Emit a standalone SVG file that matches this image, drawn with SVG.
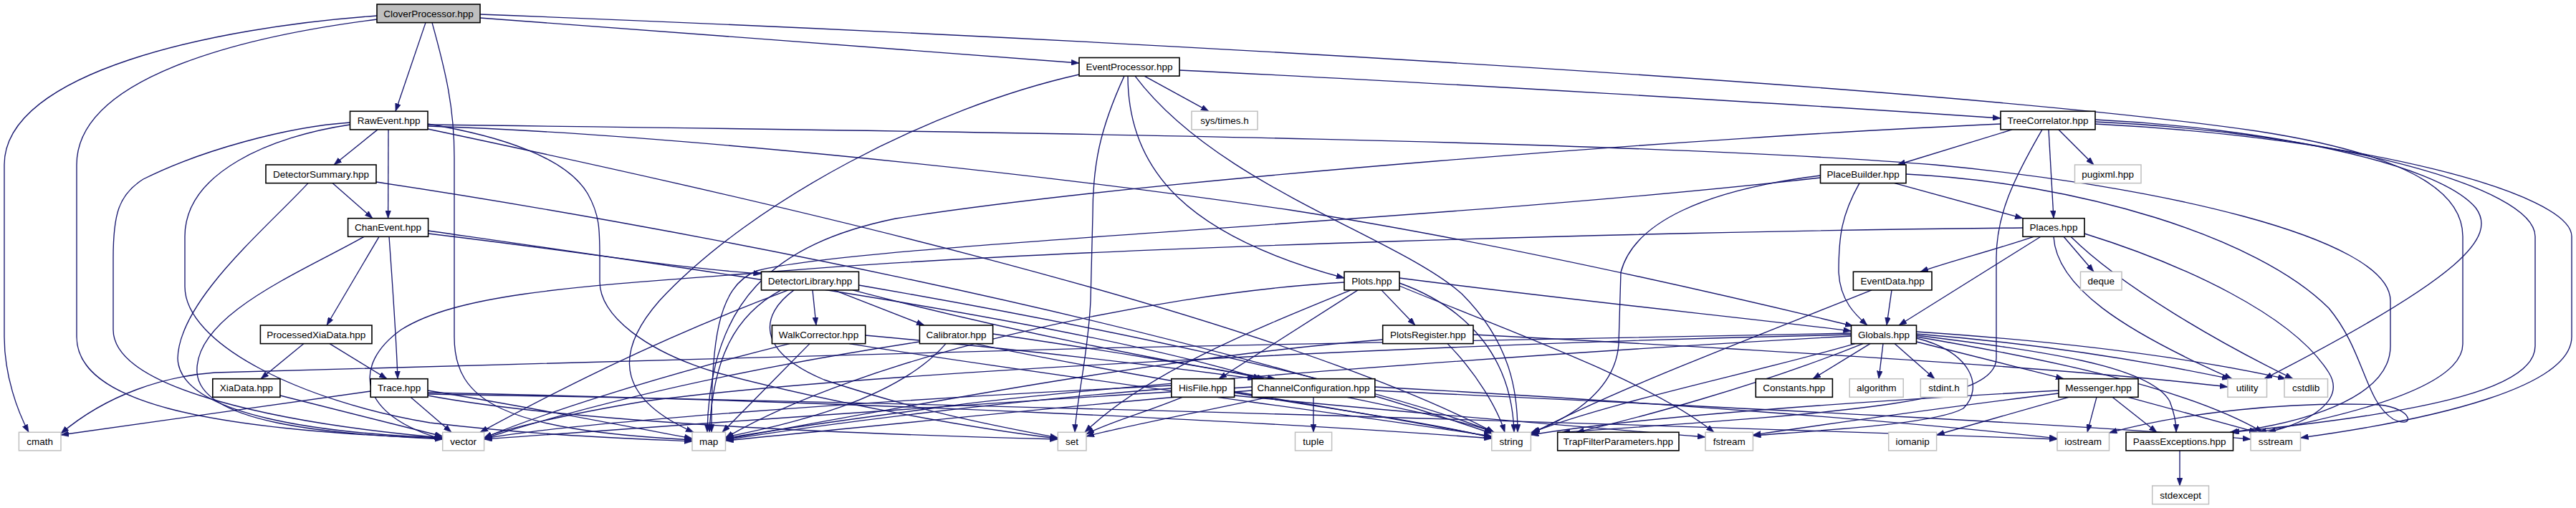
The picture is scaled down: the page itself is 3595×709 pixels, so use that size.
<svg xmlns="http://www.w3.org/2000/svg" width="3595" height="709" viewBox="0 0 3595 709">
<style>
.bg{fill:#ffffff}
.node rect{fill:#ffffff;stroke:#000000;stroke-width:1.6}
.sys rect{fill:#ffffff;stroke:#bfbfbf;stroke-width:1.5}
.root rect{fill:#bfbfbf;stroke:#000000;stroke-width:1.6}
text{font-family:"Liberation Sans",Arial,Helvetica,sans-serif;font-size:13.5px;fill:#000000;text-anchor:middle}
#edges path{fill:none;stroke:#191970;stroke-width:1.35;marker-end:url(#arr)}
</style>
<defs>
<marker id="arr" viewBox="0 0 11 8" refX="11" refY="4" markerWidth="11" markerHeight="8" markerUnits="userSpaceOnUse" orient="auto">
<path d="M0,0 L11,4 L0,8 z" fill="#191970" stroke="#191970" stroke-width="0.5"/>
</marker>
</defs>
<rect class="bg" x="0" y="0" width="3595" height="709"/>
<g id="edges">
<path d="M526,22 C300,38 6,100 6,230 L6,470 C6,525 25,575 40,603.3"/>
<path d="M526,27 C330,52 107,110 107,230 L107,470 C107,560 280,600 617.7,612"/>
<path d="M594,31.6 L552,155.3"/>
<path d="M603,31.6 C622,100 634,150 634,220 L634,470 C634,560 700,600 966,614"/>
<path d="M670,25 C900,42 1300,72 1506,88"/>
<path d="M670,20 C1500,52 2700,118 3150,183 C3390,220 3437,280 3437,330 L3437,480 C3437,545 3250,585 3152,603.3"/>
<path d="M1506,104 C1300,150 1050,280 920,420 C850,500 870,560 968,603.3"/>
<path d="M1569,106.1 C1535,180 1525,230 1525,300 L1522,420 C1518,500 1502,560 1500,603.3"/>
<path d="M1574,106.1 C1574,240 1660,330 1876,388"/>
<path d="M1584,106.1 C1700,260 1950,330 2040,410 C2110,480 2118,550 2118,603.3"/>
<path d="M1597,106.1 L1687,155.3"/>
<path d="M1646,98 C2000,115 2500,145 2792,165"/>
<path d="M527,180.9 L466,230"/>
<path d="M542,180.9 L541.6,304.7"/>
<path d="M488.5,171 C400,177 280,210 200,250 C165,272 158,300 158,360 L158,460 C158,545 400,592 617.7,611"/>
<path d="M488.5,174 C380,190 258,240 258,330 L258,400 C258,480 420,560 600,590 C750,608 880,612 966,616"/>
<path d="M597,173 C700,190 790,220 820,270 C837,300 837,320 837,360 L837,393 C837,440 900,490 1000,520 C1150,560 1350,597 1476.3,612"/>
<path d="M597,176 C900,186 1400,235 1800,293 C2100,340 2400,410 2586,455"/>
<path d="M597,180 C1000,265 1750,430 2085,603.3"/>
<path d="M597,174 C1500,185 2300,198 2700,230 C3000,258 3336,330 3336,420 L3336,483 C3336,560 3200,592 3112,603.3"/>
<path d="M2792,173 C2400,190 1600,250 1250,305 C1080,340 990,420 987,603.3"/>
<path d="M2808,180.9 L2648,230"/>
<path d="M2859,180.9 L2866,304.7"/>
<path d="M2873,180.9 L2922,230"/>
<path d="M2924,167 C3150,178 3400,225 3455,290 C3485,330 3440,385 3160,528.7"/>
<path d="M2924,170 C3250,185 3538,260 3538,330 L3538,483 C3538,540 3400,575 3114,603.3"/>
<path d="M2924,173 C3300,192 3589,270 3589,330 L3589,470 C3589,540 3400,585 3210.5,611"/>
<path d="M2850,180.9 C2810,250 2786,300 2786,360 L2786,500 C2786,560 2600,575 2180,603.3"/>
<path d="M2644,255.6 L2823,304.7"/>
<path d="M2595,255.6 C2570,300 2566,330 2566,380 C2568,420 2590,440 2606,454"/>
<path d="M2540.5,245 C2380,265 2280,310 2262,380 L2259,480 C2255,540 2200,580 2138,603.3"/>
<path d="M2540.5,248 C2000,310 1200,340 1056,378 C1000,400 993,480 993,603.3"/>
<path d="M2660,243 C2900,255 3150,330 3250,430 C3300,490 3300,560 3340,585 C3370,600 3370,570 3320,565 C3200,560 3050,575 2943.5,604"/>
<path d="M2838,330.3 C2780,350 2720,365 2680,379.3"/>
<path d="M2848,330.3 L2650,454"/>
<path d="M2880,330.3 L2922,379.3"/>
<path d="M2866,330.3 C2870,400 2960,460 3115,528.7"/>
<path d="M2890,330.3 C2960,400 3100,480 3200,528.7"/>
<path d="M2823,318 C2400,322 1500,343 1056,381 C800,400 640,410 560,460 C490,510 500,580 617.7,613"/>
<path d="M2909,326 C3050,370 3200,440 3250,520 C3275,560 3220,590 3165,603.3"/>
<path d="M2640,404.9 L2633,454"/>
<path d="M2612,404.9 C2450,470 2250,545 2136.4,606"/>
<path d="M2610,479.6 L2530,528.7"/>
<path d="M2628,479.6 L2622,528.7"/>
<path d="M2644,479.6 L2700,528.7"/>
<path d="M2674.5,477 L2880,528.7"/>
<path d="M2674.5,466 C2850,480 3000,505 3112,528.7"/>
<path d="M2674.5,463 C2900,478 3060,500 3190,528.7"/>
<path d="M2674.5,470 C2850,500 3050,540 3158,603.3"/>
<path d="M2674.5,468 C2850,490 3000,510 3028,560 C3036,580 3037,595 3037,603.3"/>
<path d="M2674.5,472 C2750,490 2770,540 2740,570 C2700,592 2550,600 2446.4,608"/>
<path d="M2589,479.6 C2450,520 2250,560 2136.4,604"/>
<path d="M2600,479.6 C2450,540 2280,585 2200,603.3"/>
<path d="M2583.5,465 C1900,475 900,500 300,520 C230,525 150,550 85,605"/>
<path d="M2583.5,467 C2000,480 1200,520 900,560 C780,580 700,600 675.6,611"/>
<path d="M2583.5,469 C2200,490 1500,540 1300,570 C1150,590 1050,605 1012.5,612"/>
<path d="M2926,554.3 L2913,603.3"/>
<path d="M2948,554.3 L3010,603.3"/>
<path d="M2970,554.3 L3150,603.3"/>
<path d="M2887,554.3 L2702.6,607"/>
<path d="M2873,545 C2600,560 2300,580 2136.4,607"/>
<path d="M2873,549 C2700,570 2550,592 2446.4,607"/>
<path d="M3042,628.9 L3042,678"/>
<path d="M1928,404.9 L1975,454"/>
<path d="M1953,388 C2200,420 2450,445 2583.5,462"/>
<path d="M1953,395 C2050,430 2110,500 2113,603.3"/>
<path d="M1953,399 C2100,460 2300,530 2392,603.3"/>
<path d="M1895,404.9 L1701,528.7"/>
<path d="M1885,404.9 C1750,460 1600,520 1514,603.3"/>
<path d="M1876,394 C1600,410 1200,500 1012.5,611"/>
<path d="M2020,479.6 C2060,520 2090,570 2100,603.3"/>
<path d="M2056,467 C2500,490 2900,515 3109,540"/>
<path d="M1929.7,474 C1600,500 1200,580 1012.5,613"/>
<path d="M1650,554.3 C1600,575 1540,592 1516,606"/>
<path d="M1722.6,548 C1850,570 2000,590 2081.8,611"/>
<path d="M1634.8,538 C1200,560 800,590 675.6,612"/>
<path d="M1634.8,542 C1400,560 1150,592 1012.5,614"/>
<path d="M1722.6,552 C1950,575 2200,595 2380,610"/>
<path d="M1833,554.3 L1833,603.3"/>
<path d="M1770,554.3 C1650,580 1560,597 1516,609"/>
<path d="M1880,554.3 C1980,575 2050,590 2085,603.3"/>
<path d="M1747.3,545 C1500,565 1200,597 1012.5,615"/>
<path d="M1747.3,540 C1400,560 900,597 675.6,613"/>
<path d="M1918.8,540 C2300,560 2700,592 2871,612"/>
<path d="M1918.8,545 C2400,568 2900,592 3141,613"/>
<path d="M1134,404.9 L1139,454"/>
<path d="M1164,404.9 L1290,454"/>
<path d="M1090,404.9 C1025,440 995,500 990,603.3"/>
<path d="M1100,404.9 C900,480 750,560 670,603.3"/>
<path d="M1108,404.9 C1060,440 1055,490 1150,530 C1300,580 1420,600 1476.3,611"/>
<path d="M1190,404.9 C1400,460 1650,510 1780,528.7"/>
<path d="M1198.5,398 C1500,450 1900,530 2085,603.3"/>
<path d="M1130,479.6 L1008,603.3"/>
<path d="M1102,479.6 C900,530 750,580 675.6,611"/>
<path d="M1207.7,468 C1450,490 1650,515 1752,528.7"/>
<path d="M1185,479.6 C1500,530 1900,580 2081.8,609"/>
<path d="M1320,479.6 C1250,560 1100,592 1012.5,610"/>
<path d="M1290,476 C1000,520 800,572 675.6,612"/>
<path d="M1385.6,466 C1550,490 1700,515 1765,528.7"/>
<path d="M1360,479.6 C1600,530 1950,582 2081.8,610"/>
<path d="M424,479.6 L364,528.7"/>
<path d="M460,479.6 L540,528.7"/>
<path d="M529,330.3 L456,454"/>
<path d="M543,330.3 C548,400 553,470 555,528.7"/>
<path d="M508,330.3 C420,380 270,440 275,520 C280,590 450,605 617.7,613"/>
<path d="M597.6,326 C800,350 950,375 1062.5,382"/>
<path d="M597.6,322 C1000,380 1500,450 1760,528.7"/>
<path d="M464,255.6 L520,304.7"/>
<path d="M430,255.6 C370,320 250,420 248,500 C250,580 450,605 617.7,611"/>
<path d="M525,254 C900,310 1600,440 2082,605"/>
<path d="M517.2,546 L85,607"/>
<path d="M573,554.3 L630,603.3"/>
<path d="M597,545 C750,570 900,600 966,612"/>
<path d="M597,548 C1200,560 1800,590 2081.8,612"/>
<path d="M597,550 C1500,565 2500,600 2871,613"/>
<path d="M597,552 C800,590 1200,606 1476.3,613"/>
<path d="M390.9,552 L617.7,609"/>
</g>
<g id="n-CloverProcessor" class="root"><rect x="526" y="6" width="144" height="25.6"/><text x="598" y="23.5">CloverProcessor.hpp</text></g>
<g id="n-EventProcessor" class="node"><rect x="1506" y="80.5" width="140" height="25.6"/><text x="1576" y="98">EventProcessor.hpp</text></g>
<g id="n-RawEvent" class="node"><rect x="488.5" y="155.3" width="108.5" height="25.6"/><text x="542.7" y="172.8">RawEvent.hpp</text></g>
<g id="n-systimes" class="sys"><rect x="1663" y="155.3" width="92" height="25.6"/><text x="1709" y="172.8">sys/times.h</text></g>
<g id="n-TreeCorrelator" class="node"><rect x="2792" y="155.3" width="132" height="25.6"/><text x="2858" y="172.8">TreeCorrelator.hpp</text></g>
<g id="n-DetectorSummary" class="node"><rect x="371" y="230" width="154" height="25.6"/><text x="448" y="247.5">DetectorSummary.hpp</text></g>
<g id="n-PlaceBuilder" class="node"><rect x="2540.5" y="230" width="119.5" height="25.6"/><text x="2600.2" y="247.5">PlaceBuilder.hpp</text></g>
<g id="n-pugixml" class="sys"><rect x="2895.5" y="230" width="92.5" height="25.6"/><text x="2941.7" y="247.5">pugixml.hpp</text></g>
<g id="n-ChanEvent" class="node"><rect x="485.6" y="304.7" width="112" height="25.6"/><text x="541.6" y="322.2">ChanEvent.hpp</text></g>
<g id="n-Places" class="node"><rect x="2823" y="304.7" width="86" height="25.6"/><text x="2866" y="322.2">Places.hpp</text></g>
<g id="n-DetectorLibrary" class="node"><rect x="1062.5" y="379.3" width="136" height="25.6"/><text x="1130.5" y="396.8">DetectorLibrary.hpp</text></g>
<g id="n-Plots" class="node"><rect x="1876" y="379.3" width="77" height="25.6"/><text x="1914.5" y="396.8">Plots.hpp</text></g>
<g id="n-EventData" class="node"><rect x="2586.4" y="379.3" width="109.6" height="25.6"/><text x="2641.2" y="396.8">EventData.hpp</text></g>
<g id="n-deque" class="sys"><rect x="2903.5" y="379.3" width="57.5" height="25.6"/><text x="2932.2" y="396.8">deque</text></g>
<g id="n-ProcessedXiaData" class="node"><rect x="363.4" y="454" width="155.6" height="25.6"/><text x="441.2" y="471.5">ProcessedXiaData.hpp</text></g>
<g id="n-WalkCorrector" class="node"><rect x="1077.4" y="454" width="130.3" height="25.6"/><text x="1142.5" y="471.5">WalkCorrector.hpp</text></g>
<g id="n-Calibrator" class="node"><rect x="1283.4" y="454" width="102.2" height="25.6"/><text x="1334.5" y="471.5">Calibrator.hpp</text></g>
<g id="n-PlotsRegister" class="node"><rect x="1929.7" y="454" width="126.3" height="25.6"/><text x="1992.8" y="471.5">PlotsRegister.hpp</text></g>
<g id="n-Globals" class="node"><rect x="2583.5" y="454" width="91" height="25.6"/><text x="2629" y="471.5">Globals.hpp</text></g>
<g id="n-XiaData" class="node"><rect x="296.8" y="528.7" width="94.1" height="25.6"/><text x="343.8" y="546.2">XiaData.hpp</text></g>
<g id="n-Trace" class="node"><rect x="517.2" y="528.7" width="79.8" height="25.6"/><text x="557.1" y="546.2">Trace.hpp</text></g>
<g id="n-HisFile" class="node"><rect x="1634.8" y="528.7" width="87.8" height="25.6"/><text x="1678.7" y="546.2">HisFile.hpp</text></g>
<g id="n-ChannelConfiguration" class="node"><rect x="1747.3" y="528.7" width="171.5" height="25.6"/><text x="1833" y="546.2">ChannelConfiguration.hpp</text></g>
<g id="n-Constants" class="node"><rect x="2450.3" y="528.7" width="107.1" height="25.6"/><text x="2503.8" y="546.2">Constants.hpp</text></g>
<g id="n-algorithm" class="sys"><rect x="2581.2" y="528.7" width="75" height="25.6"/><text x="2618.7" y="546.2">algorithm</text></g>
<g id="n-stdint" class="sys"><rect x="2680.3" y="528.7" width="65.4" height="25.6"/><text x="2713" y="546.2">stdint.h</text></g>
<g id="n-Messenger" class="node"><rect x="2873" y="528.7" width="111" height="25.6"/><text x="2928.5" y="546.2">Messenger.hpp</text></g>
<g id="n-utility" class="sys"><rect x="3109" y="528.7" width="54.5" height="25.6"/><text x="3136.2" y="546.2">utility</text></g>
<g id="n-cstdlib" class="sys"><rect x="3188" y="528.7" width="60.5" height="25.6"/><text x="3218.2" y="546.2">cstdlib</text></g>
<g id="n-cmath" class="sys"><rect x="26.4" y="603.3" width="58.6" height="25.6"/><text x="55.7" y="620.8">cmath</text></g>
<g id="n-vector" class="sys"><rect x="617.7" y="603.3" width="57.9" height="25.6"/><text x="646.6" y="620.8">vector</text></g>
<g id="n-map" class="sys"><rect x="966" y="603.3" width="46.5" height="25.6"/><text x="989.2" y="620.8">map</text></g>
<g id="n-set" class="sys"><rect x="1476.3" y="603.3" width="39.7" height="25.6"/><text x="1496.1" y="620.8">set</text></g>
<g id="n-tuple" class="sys"><rect x="1807.5" y="603.3" width="51.1" height="25.6"/><text x="1833" y="620.8">tuple</text></g>
<g id="n-string" class="sys"><rect x="2081.8" y="603.3" width="54.6" height="25.6"/><text x="2109.1" y="620.8">string</text></g>
<g id="n-TrapFilterParameters" class="node"><rect x="2173.7" y="603.3" width="169.3" height="25.6"/><text x="2258.3" y="620.8">TrapFilterParameters.hpp</text></g>
<g id="n-fstream" class="sys"><rect x="2380" y="603.3" width="66.4" height="25.6"/><text x="2413.2" y="620.8">fstream</text></g>
<g id="n-iomanip" class="sys"><rect x="2635.7" y="603.3" width="66.9" height="25.6"/><text x="2669.1" y="620.8">iomanip</text></g>
<g id="n-iostream" class="sys"><rect x="2871" y="603.3" width="72.5" height="25.6"/><text x="2907.2" y="620.8">iostream</text></g>
<g id="n-PaassExceptions" class="node"><rect x="2967" y="603.3" width="149.5" height="25.6"/><text x="3041.7" y="620.8">PaassExceptions.hpp</text></g>
<g id="n-sstream" class="sys"><rect x="3141" y="603.3" width="69.5" height="25.6"/><text x="3175.7" y="620.8">sstream</text></g>
<g id="n-stdexcept" class="sys"><rect x="3003.7" y="678" width="78.8" height="25.6"/><text x="3043.1" y="695.5">stdexcept</text></g>
</svg>
